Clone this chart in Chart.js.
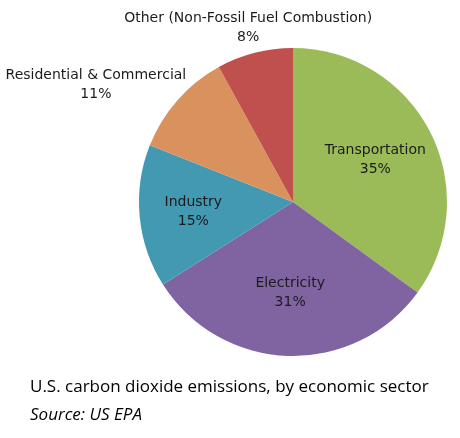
<!DOCTYPE html>
<html><head><meta charset="utf-8">
<script src="https://cdn.jsdelivr.net/npm/chart.js@4"></script>
<style>html,body{margin:0;padding:0;background:#fff}#wrap{width:460px;height:438px;position:relative}</style>
</head><body><div id="wrap"><canvas id="c" width="460" height="438"></canvas></div>
<script>
const categories = ["Transportation", "Electricity", "Industry", "Residential & Commercial", "Other (Non-Fossil Fuel Combustion)"];
const shares = [35, 31, 15, 11, 8];
const sliceColors = ["#9BBB59", "#8064A2", "#4399B1", "#D9925E", "#C0504D"];
const captionLines = ["U.S. carbon dioxide emissions, by economic sector"];
const sourceLabel = "Source: US EPA";

// label placement style: radius factor and angle shift (degrees)
const labelStyle = [
  {f: 0.60, a: 0}, {f: 0.59, a: 0}, {f: 0.65, a: 0}, {f: 1.49, a: -10.6}, {f: 1.17, a: 0}
];

const labelPlugin = {
  id: 'sliceLabels',
  afterDatasetsDraw(chart) {
    const ctx = chart.ctx;
    const meta = chart.getDatasetMeta(0);
    const total = shares.reduce((s, v) => s + v, 0);
    ctx.save();
    ctx.font = '14px "DejaVu Sans"';
    ctx.fillStyle = '#1b1b1b';
    ctx.textAlign = 'center';
    ctx.textBaseline = 'middle';
    meta.data.forEach((arc, i) => {
      const p = arc.getProps(['x', 'y', 'startAngle', 'endAngle', 'outerRadius'], true);
      const mid = (p.startAngle + p.endAngle) / 2 + labelStyle[i].a * Math.PI / 180;
      const r = p.outerRadius * labelStyle[i].f;
      const x = p.x + Math.cos(mid) * r;
      const y = p.y + Math.sin(mid) * r;
      const pct = Math.round(shares[i] / total * 100) + '%';
      ctx.fillText(categories[i], x, y - 9.5);
      ctx.fillText(pct, x, y + 9.5);
    });
    ctx.restore();
  }
};

const captionPlugin = {
  id: 'caption',
  afterDraw(chart) {
    const ctx = chart.ctx;
    ctx.save();
    ctx.fillStyle = '#000';
    ctx.textAlign = 'left';
    ctx.textBaseline = 'middle';
    ctx.font = '17px "Open Sans"';
    captionLines.forEach((t, i) => ctx.fillText(t, 30, 387 + i * 28));
    ctx.font = 'italic 17px "Open Sans"';
    ctx.fillText(sourceLabel, 30, 415);
    ctx.restore();
  }
};

new Chart(document.getElementById('c'), {
  type: 'pie',
  data: {
    labels: categories,
    datasets: [{ data: shares, backgroundColor: sliceColors, borderWidth: 0 }]
  },
  options: {
    responsive: false,
    animation: false,
    devicePixelRatio: 1,
    layout: { padding: { left: 139, right: 13, top: 48, bottom: 82 } },
    plugins: { legend: { display: false }, tooltip: { enabled: false }, title: { display: false } }
  },
  plugins: [labelPlugin, captionPlugin]
});
</script></body></html>
